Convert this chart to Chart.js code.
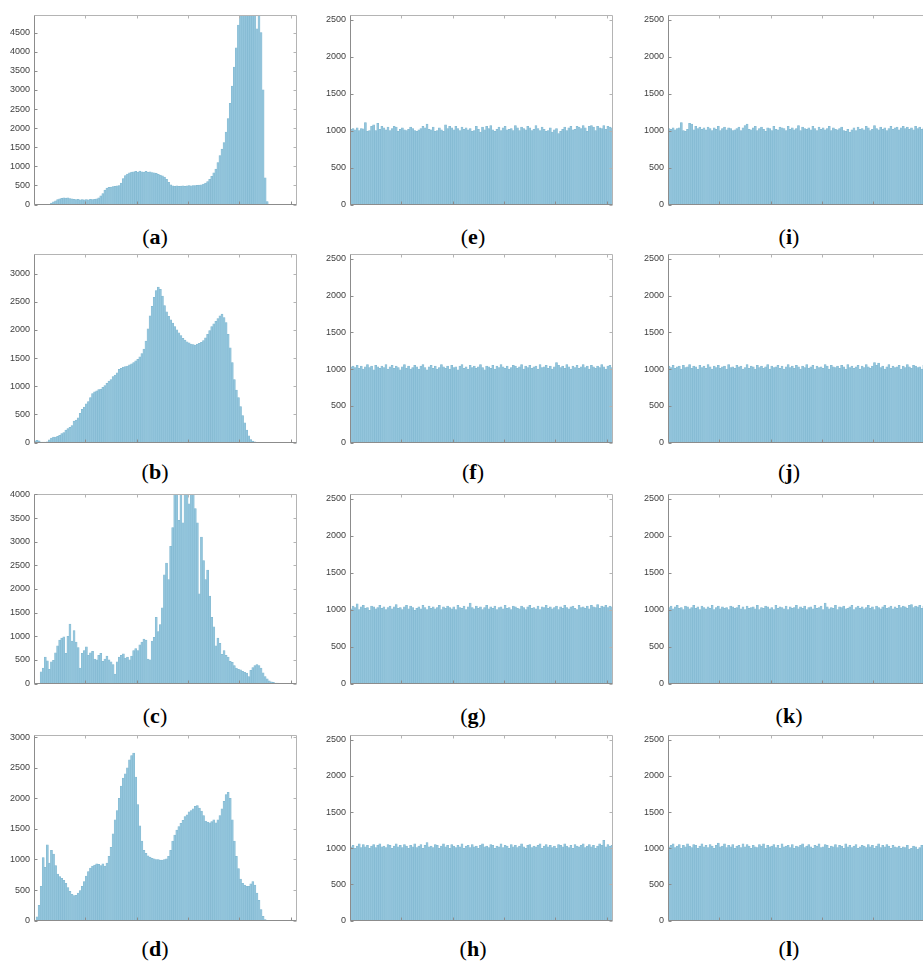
<!DOCTYPE html>
<html>
<head>
<meta charset="utf-8">
<script src="https://cdn.jsdelivr.net/npm/chart.js@4.4.0/dist/chart.umd.min.js"></script>
<style>
  html, body { margin: 0; padding: 0; background: #fff; }
  body { width: 923px; height: 965px; position: relative; overflow: hidden; }
  canvas { position: absolute; }
  .cap {
    position: absolute; width: 80px; margin-left: -40px; text-align: center;
    font-family: "Liberation Serif", serif; font-size: 22px; line-height: 22px; color: #000;
  }
</style>
</head>
<body>
<script>
// grey-level histograms, 128 bins of width 2 (0..256)
const histA = [
  0,0,0,0,0,0,0,10,40,70,100,130,150,165,175,170,
  175,160,150,140,130,135,125,130,128,130,125,135,130,140,150,180,
  230,290,380,430,450,460,470,480,490,500,560,680,760,800,830,850,
  860,870,850,880,860,850,870,850,860,840,830,820,790,770,750,720,
  660,580,520,490,480,490,480,485,490,480,490,495,490,500,495,505,
  510,520,540,560,600,660,740,830,930,1100,1280,1450,1620,1900,2250,2650,
  3100,3600,4100,4700,5200,5500,5800,6000,5900,5600,5300,5000,4600,5000,4500,3000,
  700,80,10,0,0,0,0,0,0,0,0,0,0,0,0,0
];
const histB = [
  30,40,30,10,8,10,15,50,80,100,100,110,130,160,180,220,
  250,270,300,380,400,440,520,590,630,690,730,800,870,900,920,940,
  950,980,1010,1050,1090,1120,1170,1200,1240,1300,1320,1340,1350,1360,1380,1400,
  1420,1450,1480,1520,1580,1660,1800,2020,2250,2420,2580,2700,2760,2720,2600,2430,
  2320,2240,2180,2120,2060,2000,1950,1900,1850,1820,1790,1770,1750,1740,1730,1750,
  1760,1780,1810,1860,1920,1990,2060,2110,2150,2200,2250,2280,2220,2130,1920,1680,
  1420,1120,930,800,640,480,350,220,120,55,25,12,6,6,6,6,
  6,6,6,6,6,6,6,6,2,2,2,2,2,2,2,2
];
const histC = [
  0,0,0,250,330,560,480,300,460,490,650,800,920,960,990,640,
  1000,1260,900,1120,880,760,330,640,700,780,600,650,680,520,500,600,
  640,470,520,580,500,460,400,200,460,560,600,630,540,560,500,580,
  700,740,700,820,880,940,920,520,500,900,980,1400,1100,1250,1600,2300,
  2550,2200,2900,3300,4300,4500,3450,4400,3400,4600,4800,3800,4300,4100,3700,3400,
  1900,3100,2600,2200,2400,1850,1400,1200,800,960,850,620,700,600,560,470,
  450,380,330,300,290,260,240,220,150,280,340,380,400,380,330,230,
  150,100,60,35,25,12,10,8,8,6,6,5,5,0,0,0
];
const histD = [
  0,60,250,560,1030,870,1240,940,1150,1090,900,760,720,690,660,610,
  540,480,430,410,415,450,490,560,640,730,800,860,890,910,930,920,
  900,930,890,940,1050,1200,1420,1650,1800,2000,2200,2330,2400,2500,2630,2700,
  2740,2350,1900,1550,1300,1150,1100,1060,1040,1020,1010,1000,1000,990,990,1000,
  1010,1050,1150,1300,1400,1480,1540,1590,1640,1700,1730,1780,1800,1830,1870,1880,
  1840,1790,1720,1630,1610,1600,1620,1650,1600,1650,1720,1830,1950,2060,2100,2000,
  1650,1300,1050,850,680,610,580,560,560,600,640,580,450,330,180,70,
  15,0,0,0,0,0,0,0,0,0,0,0,0,0,0,0
];
const flatE = [
  1020,1030,1010,1040,1000,1030,1025,1110,990,1000,1060,1080,1000,1100,1020,1060,
  1040,1010,1050,1000,1030,1060,1050,990,1020,1040,1010,1000,1020,1050,1030,1000,
  990,1010,1030,1060,1040,1090,1020,1010,1050,990,1000,1040,1010,990,1080,1030,
  1060,1040,1010,1060,1030,1000,1050,1020,1040,1010,1030,990,1000,1060,1020,980,
  1050,1010,1060,1030,1070,1010,990,1020,1050,1000,1040,1060,1010,1020,1030,1000,
  1070,1040,1000,1050,1030,1010,1060,1040,1000,1020,1070,1030,1000,1050,1020,990,
  1000,1040,980,1010,1030,960,990,1020,1050,1000,1040,1060,1010,1020,1060,1050,
  1030,1070,1040,990,1060,1070,1050,1000,1060,1040,1030,1070,1020,1060,1050,1040
];
const flatF = [
  1030,1040,1020,1050,1010,1040,1000,1030,1060,1020,1040,990,1050,1030,1010,1040,
  1020,1060,1000,1030,1050,1010,1040,1020,990,1030,1060,1010,1040,1000,1020,1050,
  1030,1000,1040,1060,1020,990,1030,1050,1010,1040,1000,1020,1060,1030,1010,1040,
  1000,1050,1020,1030,990,1040,1060,1010,1030,1000,1050,1020,1040,1010,1030,1060,
  1020,990,1040,1030,1010,1050,1000,1040,1020,1060,1030,1010,1040,1000,1020,1050,
  1040,1010,1030,1060,1000,1040,1020,1050,1010,1030,1040,1000,1060,1020,1030,1050,
  1010,1040,1000,1030,1090,1050,1020,1040,1010,1060,1030,1000,1040,1020,1050,1010,
  1030,1060,1020,1040,1000,1050,1030,1010,1040,1020,1060,1030,1000,1040,1050,1020
];
const flatG = [
  1010,1050,1030,1080,1000,1040,1060,1020,1030,990,1050,1040,1010,1030,1060,1020,
  1040,1000,1030,1050,1010,1040,1070,1020,1030,1000,1040,1060,1010,1050,1030,990,
  1020,1040,1010,1060,1030,1000,1050,1020,1040,1010,1030,1060,1000,1040,1020,1050,
  1030,1010,1040,1000,1060,1030,1020,1050,1000,1040,1090,1030,1010,1050,1020,1040,
  1000,1030,1060,1010,1040,1020,1050,1000,1030,1040,1010,1060,1020,1030,1000,1050,
  1040,1020,1010,1050,1030,1000,1040,1060,1020,1030,1010,1050,1000,1040,1030,1060,
  1020,1040,1010,1030,1050,1000,1040,1020,1060,1030,1010,1040,1050,1020,1000,1060,
  1030,1040,1020,1050,1010,1060,1040,1030,1070,1020,1050,1040,1060,1030,1050,1040
];
const flatH = [
  1020,1040,1000,1030,1060,1010,1050,1020,1040,1000,1030,1050,1010,1040,1060,1020,
  1030,1010,1050,1040,1000,1030,1060,1020,1040,1010,1050,1030,1000,1040,1020,1060,
  1010,1030,1050,1000,1040,1080,1020,1030,1010,1050,1040,1000,1030,1060,1020,1040,
  1000,1050,1030,1010,1040,1020,1060,1000,1030,1040,1010,1050,1020,1030,1000,1040,
  1060,1020,1030,1010,1050,1040,1000,1030,1020,1060,1010,1040,1030,1000,1050,1020,
  1040,1010,1030,1060,1020,1000,1040,1050,1010,1030,1020,1040,1060,1000,1030,1050,
  1020,1040,1010,1030,1000,1050,1040,1020,1060,1030,1010,1040,1000,1050,1030,1020,
  1040,1060,1010,1030,1050,1020,1040,1000,1030,1060,1040,1110,1020,1050,1030,1040
];
const flatI = [
  1030,1020,1040,1010,1030,1040,1110,1000,990,1020,1100,1090,1010,1060,1030,1050,
  1020,1040,1010,1050,1030,1000,1040,1020,1060,1000,1030,1050,1010,1040,1030,1000,
  1010,1030,1050,1000,1040,1070,1090,1020,1010,1040,1060,1000,1030,1050,1020,990,
  1040,1030,1000,1060,1020,1010,1050,1040,1030,1000,1060,1020,1040,1010,1030,1070,
  1000,1050,1030,1020,1040,1010,1060,1030,1000,1050,1020,1040,1010,1030,1060,1000,
  1040,1020,1010,1030,1050,1000,990,1020,980,1010,1040,1000,1050,1020,1030,1010,
  1060,1040,1000,1020,1070,1030,1010,1050,1020,1040,1000,1030,1060,1020,1040,1050,
  1010,1040,1060,1030,1050,1020,1040,1010,1060,1030,1050,1020,1040,1060,1030,1050
];
const flatJ = [
  1040,1020,1050,1010,1030,1040,1000,1050,1020,1030,1060,1010,1040,1030,1000,1050,
  1020,1040,1010,1060,1030,1000,1040,1020,1050,1010,1030,1040,1000,1060,1020,1030,
  1010,1050,1030,1040,1000,1020,1060,1010,1040,1030,1000,1050,1020,1040,1010,1030,
  1060,1000,1040,1020,1030,1050,1010,1040,1000,1030,1060,1020,1040,1010,1050,1030,
  1000,1040,1020,1060,1010,1030,1050,1000,1040,1020,1030,1010,1060,1040,1000,1050,
  1030,1020,1040,1010,1050,1030,1000,1060,1020,1040,1010,1030,1050,1000,1040,1020,
  1060,1030,1010,1040,1090,1050,1080,1020,1040,1000,1030,1060,1010,1040,1020,1030,
  1050,1000,1040,1020,1060,1030,1010,1050,1040,1020,1030,1000,1050,1040,1020,1030
];
const flatK = [
  1030,1050,1010,1040,1060,1020,1030,1000,1050,1040,1010,1030,1060,1020,1040,1000,
  1050,1030,1010,1040,1020,1060,1000,1030,1050,1010,1040,1020,1030,1000,1050,1040,
  1020,1030,1060,1010,1040,1000,1050,1020,1030,1040,1010,1060,1000,1030,1020,1050,
  1040,1010,1030,1000,1060,1020,1040,1030,1010,1050,1000,1040,1020,1030,1060,1010,
  1040,1020,1050,1000,1030,1040,1010,1060,1020,1030,1050,1000,1090,1040,1010,1030,
  1020,1060,1000,1040,1030,1050,1010,1020,1040,1060,1000,1030,1050,1020,1040,1010,
  1030,1060,1020,1040,1000,1050,1030,1010,1040,1060,1020,1030,1050,1010,1040,1020,
  1060,1030,1050,1040,1020,1060,1070,1030,1050,1040,1060,1020,1050,1040,1060,1030
];
const flatL = [
  1020,1040,1060,1010,1030,1050,1000,1040,1020,1060,1030,1010,1050,1040,1000,1030,
  1060,1020,1040,1010,1050,1030,1000,1040,1070,1020,1030,1060,1010,1040,1020,1050,
  1000,1030,1040,1010,1060,1020,1050,1030,1000,1040,1020,1010,1050,1030,1060,1000,
  1040,1020,1030,1050,1010,1040,1000,1060,1020,1030,1040,1010,1050,1000,1030,1020,
  1040,1060,1010,1030,1050,1020,1000,1040,1030,1060,1010,1020,1050,1040,1000,1030,
  1020,1050,1010,1040,1030,1000,1060,1020,1040,1010,1030,1050,1000,1020,1040,1030,
  1010,1050,1020,1040,1000,1030,1060,1010,1040,1020,1050,1030,1000,1040,1020,1010,
  1030,1000,1020,1010,1040,990,1000,1030,1020,990,1010,1040,1000,1020,1030,1010
];

const binCenters = histA.map((_, i) => 2 * i + 1);

// tick values
const xTicks = [0, 50, 100, 150, 200, 250];
const ticksA = [0, 500, 1000, 1500, 2000, 2500, 3000, 3500, 4000, 4500];
const ticksB = [0, 500, 1000, 1500, 2000, 2500, 3000];
const ticksC = [0, 500, 1000, 1500, 2000, 2500, 3000, 3500, 4000];
const ticksD = [0, 500, 1000, 1500, 2000, 2500, 3000];
const ticksFlat = [0, 500, 1000, 1500, 2000, 2500];

// panel letters, data, y-limits (column-major: a-d, e-h, i-l)
const letters = ["a", "b", "c", "d", "e", "f", "g", "h", "i", "j", "k", "l"];
const series = [histA, histB, histC, histD, flatE, flatF, flatG, flatH, flatI, flatJ, flatK, flatL];
const yMaxes = [4950, 3340, 4000, 3030, 2560, 2560, 2560, 2560, 2560, 2560, 2560, 2560];
const yTicks = [ticksA, ticksB, ticksC, ticksD, ticksFlat, ticksFlat, ticksFlat, ticksFlat,
                ticksFlat, ticksFlat, ticksFlat, ticksFlat];

// layout
const colLeft = [34, 350, 668];
const colAxisW = [34, 40, 48];
const capX = [155, 473, 789];
const rowTop = [14, 253, 493, 734];
const rowH = [192, 191, 192, 188];
const capY = [237, 472, 716, 949];
const plotW = 263;
const PAD = 8;

// MATLAB-like box with inward ticks
const boxPlugin = {
  id: "matlabBox",
  afterDatasetsDraw(chart) {
    const { ctx, chartArea: a, scales } = chart;
    const l = Math.round(a.left) + 0.5, r = Math.round(a.right) - 0.5;
    const t = Math.round(a.top) + 0.5, b = Math.round(a.bottom) - 0.5;
    ctx.save();
    ctx.lineWidth = 1;
    ctx.strokeStyle = "#b4b4b4";
    ctx.beginPath();
    ctx.moveTo(l, t); ctx.lineTo(r, t); ctx.lineTo(r, b);
    scales.x.ticks.forEach(tk => {
      const x = Math.round(scales.x.getPixelForValue(tk.value)) + 0.5;
      ctx.moveTo(x, t); ctx.lineTo(x, t + 3);
    });
    scales.y.ticks.forEach(tk => {
      const y = Math.round(scales.y.getPixelForValue(tk.value)) + 0.5;
      ctx.moveTo(r, y); ctx.lineTo(r - 3, y);
    });
    ctx.stroke();
    ctx.strokeStyle = "#8c8c8c";
    ctx.beginPath();
    ctx.moveTo(l, t); ctx.lineTo(l, b); ctx.lineTo(r, b);
    scales.x.ticks.forEach(tk => {
      const x = Math.round(scales.x.getPixelForValue(tk.value)) + 0.5;
      ctx.moveTo(x, b); ctx.lineTo(x, b - 3);
    });
    scales.y.ticks.forEach(tk => {
      const y = Math.round(scales.y.getPixelForValue(tk.value)) + 0.5;
      ctx.moveTo(l, y); ctx.lineTo(l + 3, y);
    });
    ctx.stroke();
    ctx.restore();
  }
};

series.forEach((values, k) => {
  const col = Math.floor(k / 4), row = k % 4;
  const axisW = colAxisW[col];
  const canvas = document.createElement("canvas");
  canvas.width = axisW + plotW + 3;
  canvas.height = rowH[row] + 2 * PAD;
  canvas.style.left = (colLeft[col] - axisW) + "px";
  canvas.style.top = (rowTop[row] - PAD) + "px";
  document.body.appendChild(canvas);

  const cap = document.createElement("div");
  cap.className = "cap";
  cap.style.left = capX[col] + "px";
  cap.style.top = (capY[row] - 11) + "px";
  cap.innerHTML = "(<b>" + letters[k] + "</b>)";
  document.body.appendChild(cap);

  new Chart(canvas.getContext("2d"), {
    type: "bar",
    data: {
      datasets: [{
        data: values.map((v, i) => ({ x: binCenters[i], y: v })),
        backgroundColor: "#93c5dc",
        borderColor: "#7fb6cf",
        borderWidth: 0.5,
        borderSkipped: "start",
        barPercentage: 1,
        categoryPercentage: 1
      }]
    },
    options: {
      responsive: false,
      animation: false,
      devicePixelRatio: 1,
      layout: { padding: { top: PAD, bottom: PAD, left: 0, right: 3 } },
      plugins: { legend: { display: false }, tooltip: { enabled: false } },
      scales: {
        x: {
          type: "linear", min: 0, max: 256, offset: false,
          grid: { display: false, drawTicks: false },
          border: { display: false },
          ticks: { display: false },
          afterBuildTicks: s => { s.ticks = xTicks.map(v => ({ value: v })); },
          afterFit: s => { s.height = 0; }
        },
        y: {
          min: 0, max: yMaxes[k],
          grid: { display: false, drawTicks: false },
          border: { display: false },
          ticks: {
            padding: 4,
            color: "#404040",
            font: { family: "Liberation Sans", size: 9 },
            callback: v => String(v)
          },
          afterBuildTicks: s => { s.ticks = yTicks[k].map(v => ({ value: v })); },
          afterFit: s => { s.width = axisW; }
        }
      }
    },
    plugins: [boxPlugin]
  });
});
</script>
</body>
</html>
